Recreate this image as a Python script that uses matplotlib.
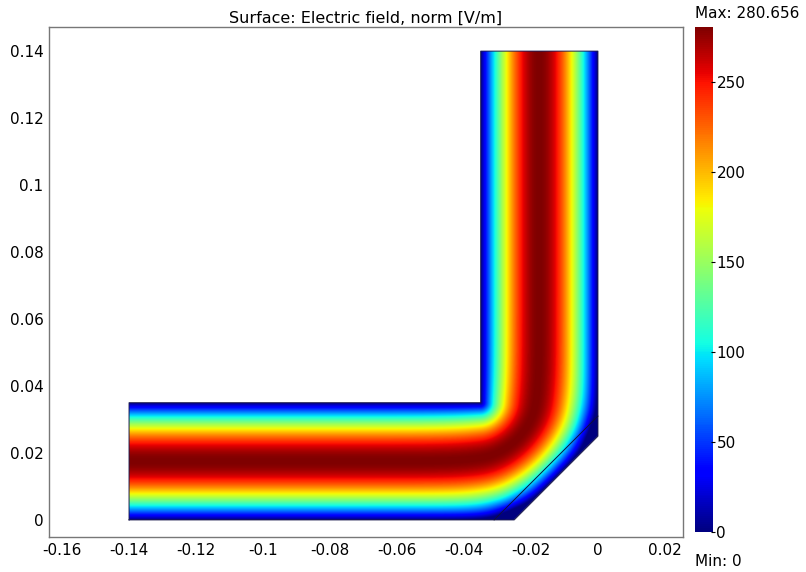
import numpy as np
import matplotlib
matplotlib.use('Agg')
import matplotlib.pyplot as plt
from matplotlib.path import Path

# geometry of the mitered waveguide bend (metres)
width = 0.035                       # guide width a
arm_start = -0.14                   # left end of horizontal arm
arm_top = 0.14                      # top end of vertical arm
miter = 0.025                       # outer corner cut at (-miter, 0) -> (0, miter)
inner_line = 0.031                  # interior boundary (-l, 0) -> (0, l)
e_max = 280.656                     # V/m
e_min = 0.0

xticks = [-0.16, -0.14, -0.12, -0.1, -0.08, -0.06, -0.04, -0.02, 0, 0.02]
xticklabels = ['-0.16', '-0.14', '-0.12', '-0.1', '-0.08', '-0.06', '-0.04', '-0.02', '0', '0.02']
yticks = [0, 0.02, 0.04, 0.06, 0.08, 0.1, 0.12, 0.14]
yticklabels = ['0', '0.02', '0.04', '0.06', '0.08', '0.1', '0.12', '0.14']
cticks = [0, 50, 100, 150, 200, 250]

outline = np.array([
    [arm_start, 0.0], [-miter, 0.0], [0.0, miter], [0.0, arm_top],
    [-width, arm_top], [-width, width], [arm_start, width], [arm_start, 0.0]])
outer_wall = outline[:4]


def seg_dist(X, Y, p0, p1):
    d = p1 - p0
    s = np.clip(((X - p0[0]) * d[0] + (Y - p0[1]) * d[1]) / (d @ d), 0, 1)
    return np.hypot(X - (p0[0] + s * d[0]), Y - (p0[1] + s * d[1]))


# TE10-like field: sin profile across the guide, following the bend
nx, ny = 900, 900
xs = np.linspace(arm_start, 0.0, nx)
ys = np.linspace(0.0, arm_top, ny)
X, Y = np.meshgrid(xs, ys)
d_in = np.hypot(np.clip(X + width, 0, None), np.clip(width - Y, 0, None))
dists = np.array([seg_dist(X, Y, outer_wall[i], outer_wall[i + 1])
                  for i in range(len(outer_wall) - 1)])
k = 0.004
dmin = dists.min(axis=0)
d_out = dmin - k * np.log(np.exp(-(dists - dmin) / k).sum(axis=0))
d_out = np.clip(d_out, 0, None)
t = np.clip(d_in / (d_in + d_out + 1e-12), 0, 1)
E = e_max * np.sin(np.pi * t)

inside = Path(outline).contains_points(np.c_[X.ravel(), Y.ravel()], radius=1e-9)
E = np.ma.masked_array(E, mask=~inside.reshape(E.shape))

fig = plt.figure(figsize=(8.06, 5.72), dpi=100)
ax = fig.add_axes([49 / 806, 1 - 537 / 572, 634 / 806, 510 / 572])
im = ax.imshow(E, origin='lower', extent=[arm_start, 0.0, 0.0, arm_top],
               cmap='jet', vmin=e_min, vmax=e_max, interpolation='bilinear',
               aspect='auto')
ax.plot(outline[:, 0], outline[:, 1], color='#1c1c50', lw=0.7)
ax.plot([-inner_line, 0.0], [0.0, inner_line], color='#10103a', lw=0.7)

ax.set_xlim(-0.1639, 0.0254)
ax.set_ylim(-0.0051, 0.1472)
ax.set_xticks(xticks)
ax.set_xticklabels(xticklabels)
ax.set_yticks(yticks)
ax.set_yticklabels(yticklabels)
ax.tick_params(length=0, labelsize=11, pad=4)
for s in ax.spines.values():
    s.set_color('#777777')
    s.set_linewidth(1.0)
ax.set_title('Surface: Electric field, norm [V/m]', fontsize=11.5, pad=3)

cax = fig.add_axes([695 / 806, 1 - 532 / 572, 18 / 806, 505 / 572])
cb = fig.colorbar(im, cax=cax, ticks=cticks)
cb.outline.set_visible(False)
cax.tick_params(labelsize=11, length=3, width=0.8, direction='inout', pad=1)
fig.text(695 / 806, 1 - 14 / 572, f'Max: {e_max:.3f}', fontsize=11, va='center', ha='left')
fig.text(695 / 806, 1 - 561 / 572, f'Min: {e_min:g}', fontsize=11, va='center', ha='left')

fig.savefig('out.png', dpi=100)
